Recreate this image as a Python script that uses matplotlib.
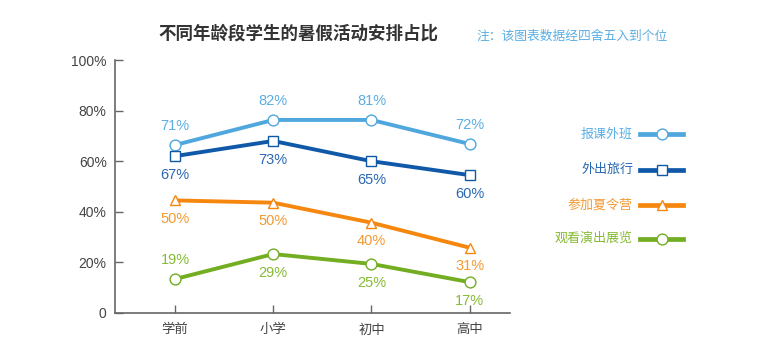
import matplotlib
matplotlib.use("Agg")
import matplotlib.pyplot as plt
from matplotlib.lines import Line2D

plt.rcParams['font.family'] = ['Liberation Sans', 'Noto Sans CJK SC', 'DejaVu Sans']

stages = ["学前", "小学", "初中", "高中"]
series_names = ["报课外班", "外出旅行", "参加夏令营", "观看演出展览"]

# printed percentages
labels_class = [71, 82, 81, 72]
labels_travel = [67, 73, 65, 60]
labels_camp = [50, 50, 40, 31]
labels_show = [19, 29, 25, 17]

# where the points actually sit on the y axis in the picture
pos_class = [66.4, 76.3, 76.3, 66.8]
pos_travel = [62.0, 68.0, 60.0, 54.5]
pos_camp = [44.5, 43.6, 35.7, 25.8]
pos_show = [13.4, 23.3, 19.4, 12.2]

yticks = [0, 20, 40, 60, 80, 100]
ytick_labels = ["0", "20%", "40%", "60%", "80%", "100%"]

line_colors = ["#4fa7de", "#0f59a8", "#f5870f", "#72ad22"]
text_colors = ["#5aaee3", "#2a67b2", "#f39a33", "#86bb35"]
markers = ["o", "s", "^", "o"]
# label above (+1) or below (-1) the point
label_side = [[1, 1, 1, 1], [-1, -1, -1, -1], [-1, -1, -1, -1], [1, -1, -1, -1]]

positions = [pos_class, pos_travel, pos_camp, pos_show]
labels = [labels_class, labels_travel, labels_camp, labels_show]

fig = plt.figure(figsize=(7.79, 3.55), dpi=100)
ax = fig.add_axes([115 / 779, 1 - 313 / 355, (510 - 115) / 779, (313 - 60) / 355])

x = list(range(len(stages)))
for i in range(4):
    ax.plot(x, positions[i], color=line_colors[i], lw=2.8, marker=markers[i],
            ms=7.8, mfc="white", mec=line_colors[i], mew=1.0, zorder=3)
    for j in range(4):
        ax.annotate(f"{labels[i][j]}%", (x[j], positions[i][j]),
                    xytext=(0, 13.5 * label_side[i][j]), textcoords="offset points",
                    ha="center", va="center", fontsize=10.5, color=text_colors[i])

ax.set_xlim(-0.61, 3.41)
ax.set_ylim(0, 100)
ax.set_xticks(x)
ax.set_xticklabels(stages, fontsize=9.6, color="#444444")
ax.set_yticks(yticks)
ax.set_yticklabels(ytick_labels, fontsize=10, color="#444444")
ax.tick_params(axis="both", direction="in", length=6, width=1, color="#666666", pad=6)
ax.tick_params(axis="x", pad=8)
for s in ["top", "right"]:
    ax.spines[s].set_visible(False)
for s in ["left", "bottom"]:
    ax.spines[s].set_color("#666666")
    ax.spines[s].set_linewidth(1.2)

fig.text(298 / 779, 1 - 33 / 355, "不同年龄段学生的暑假活动安排占比", ha="center", va="center",
         fontsize=12.6, fontweight="bold", color="#333333")
fig.text(476 / 779, 1 - 37 / 355, "注：该图表数据经四舍五入到个位", ha="left", va="center",
         fontsize=9.2, color="#5aaee3")

# legend drawn by hand: text right aligned, line with marker on the right
legend_y = [134, 170, 205, 239]
for i in range(4):
    yy = 1 - legend_y[i] / 355
    fig.text(633 / 779, yy, series_names[i], ha="right", va="center",
             fontsize=9.4, color=text_colors[i])
    fig.add_artist(Line2D([640 / 779, 683 / 779], [yy, yy], color=line_colors[i], lw=3.4,
                          transform=fig.transFigure))
    fig.add_artist(Line2D([662 / 779], [yy], marker=markers[i], ms=7.8, mfc="white",
                          mec=line_colors[i], mew=1.0, transform=fig.transFigure))

fig.savefig("out.png", dpi=100)
